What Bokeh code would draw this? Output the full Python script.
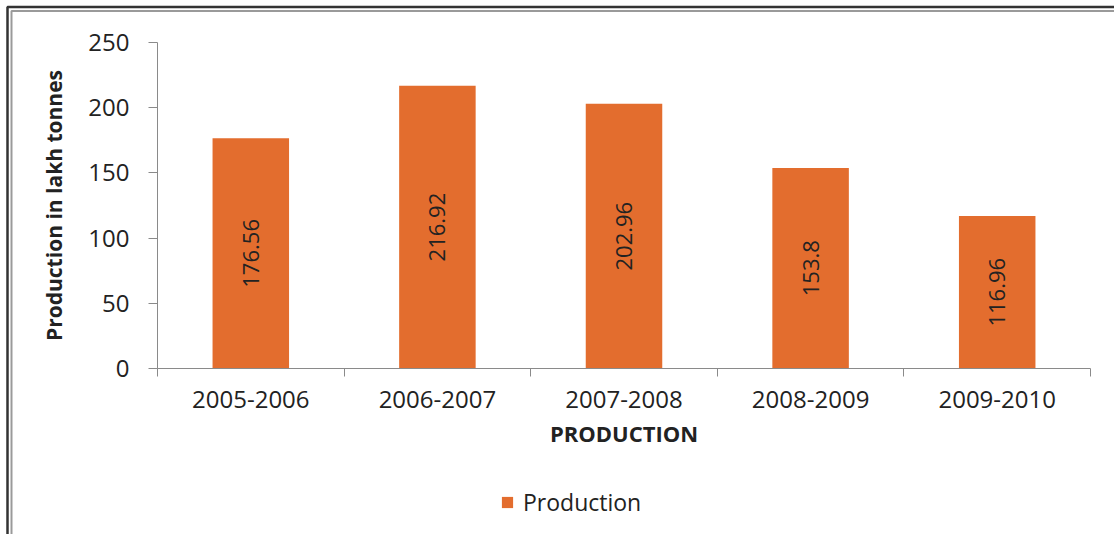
from math import pi
from bokeh.plotting import figure
from bokeh.models import (Range1d, FixedTicker, ColumnDataSource, Legend, LegendItem,
                          BoxAnnotation)
from bokeh.core.properties import value
from bokeh.embed import file_html
from bokeh.resources import INLINE

# ---- data ----
categories = ["2005-2006", "2006-2007", "2007-2008", "2008-2009", "2009-2010"]
production = [176.56, 216.92, 202.96, 153.8, 116.96]
y_ticks = [0, 50, 100, 150, 200, 250]
series_name = "Production"
x_title = "PRODUCTION"
y_title = "Production in lakh tonnes"

BAR_COLOR = "#E36D2E"
TEXT_COLOR = "#222222"
AXIS_COLOR = "#8a8a8a"
FONT = "Open Sans"

# ---- layout (pixel placement of the plotting area inside the 1114x534 canvas) ----
W, H = 1114, 534
PLOT_L, PLOT_R, PLOT_T, PLOT_B = 157, 1090, 42, 368

n = len(categories)
y_lo, y_hi = y_ticks[0], y_ticks[-1]
kx = (PLOT_R - PLOT_L) / n              # px per category
ky = (PLOT_B - PLOT_T) / (y_hi - y_lo)  # px per unit
x_start, x_end = -PLOT_L / kx, n + (W - PLOT_R) / kx
y_start, y_end = y_lo - (H - PLOT_B) / ky, y_hi + PLOT_T / ky

def px2x(px):
    return x_start + px / kx

def py2y(py):
    return y_end - py / ky

xs = [i + 0.5 for i in range(n)]
src = ColumnDataSource(dict(
    x=xs,
    top=production,
    mid=[v / 2 for v in production],
    label=[str(v) for v in production],
))

p = figure(width=W, height=H, output_backend="svg", toolbar_location=None,
           x_range=Range1d(x_start, x_end), y_range=Range1d(y_start, y_end),
           min_border=0, min_border_left=0, min_border_right=0,
           min_border_top=0, min_border_bottom=0)
p.outline_line_color = None
p.xgrid.grid_line_color = None
p.ygrid.grid_line_color = None
p.background_fill_color = "white"
p.border_fill_color = "white"

bars = p.vbar(x="x", top="top", bottom=y_lo, width=0.41, source=src,
              fill_color=BAR_COLOR, line_color=None)
p.text(x="x", y="mid", text="label", source=src, angle=pi / 2,
       text_align="center", text_baseline="middle",
       text_font=value(FONT), text_font_size="22px", text_color=TEXT_COLOR)

# x axis: labels at category centres, tick marks at boundaries
xax = p.xaxis[0]
xax.fixed_location = y_lo
xax.bounds = (0, n)
xax.ticker = FixedTicker(ticks=xs, minor_ticks=list(range(n + 1)))
xax.major_label_overrides = {x: c for x, c in zip(xs, categories)}
xax.major_tick_line_color = None
xax.minor_tick_in = 0
xax.minor_tick_out = 8
xax.minor_tick_line_color = AXIS_COLOR
xax.axis_line_color = AXIS_COLOR
xax.major_label_text_font = FONT
xax.major_label_text_font_size = "24px"
xax.major_label_text_color = TEXT_COLOR
xax.major_label_standoff = 14
xax.axis_label = x_title
xax.axis_label_text_font = FONT
xax.axis_label_text_font_size = "22px"
xax.axis_label_text_font_style = "bold"
xax.axis_label_text_color = TEXT_COLOR
xax.axis_label_standoff = 7

yax = p.yaxis[0]
yax.fixed_location = 0
yax.bounds = (y_lo, y_hi)
yax.ticker = FixedTicker(ticks=y_ticks, minor_ticks=[])
yax.major_tick_in = 0
yax.major_tick_out = 9
yax.major_tick_line_color = AXIS_COLOR
yax.axis_line_color = AXIS_COLOR
yax.minor_tick_line_color = None
yax.major_label_text_font = FONT
yax.major_label_text_font_size = "24px"
yax.major_label_text_color = TEXT_COLOR
yax.major_label_standoff = 19
yax.axis_label = y_title
yax.axis_label_text_font = FONT
yax.axis_label_text_font_size = "21px"
yax.axis_label_text_font_style = "bold"
yax.axis_label_text_color = TEXT_COLOR
yax.axis_label_standoff = 17

legend = Legend(items=[LegendItem(label=series_name, renderers=[bars])],
                location=(500, 16), orientation="horizontal",
                label_text_font=FONT, label_text_font_size="23px",
                label_text_color=TEXT_COLOR, glyph_width=14, glyph_height=14,
                label_standoff=9, padding=0, margin=0, spacing=0,
                border_line_color=None, background_fill_alpha=0)
p.add_layout(legend, "center")

# chart border (double line along top and left)
p.add_layout(BoxAnnotation(left=px2x(7), top=py2y(6.5), right=px2x(1300), bottom=py2y(800),
                           fill_alpha=0, line_color="#333333", line_alpha=1.0,
                           line_width=2.5))
p.add_layout(BoxAnnotation(left=px2x(11), top=py2y(10.5), right=px2x(1300), bottom=py2y(800),
                           fill_alpha=0, line_color="#9a9a9a", line_alpha=1.0,
                           line_width=2))

open("out.html", "w").write(file_html(p, INLINE))
